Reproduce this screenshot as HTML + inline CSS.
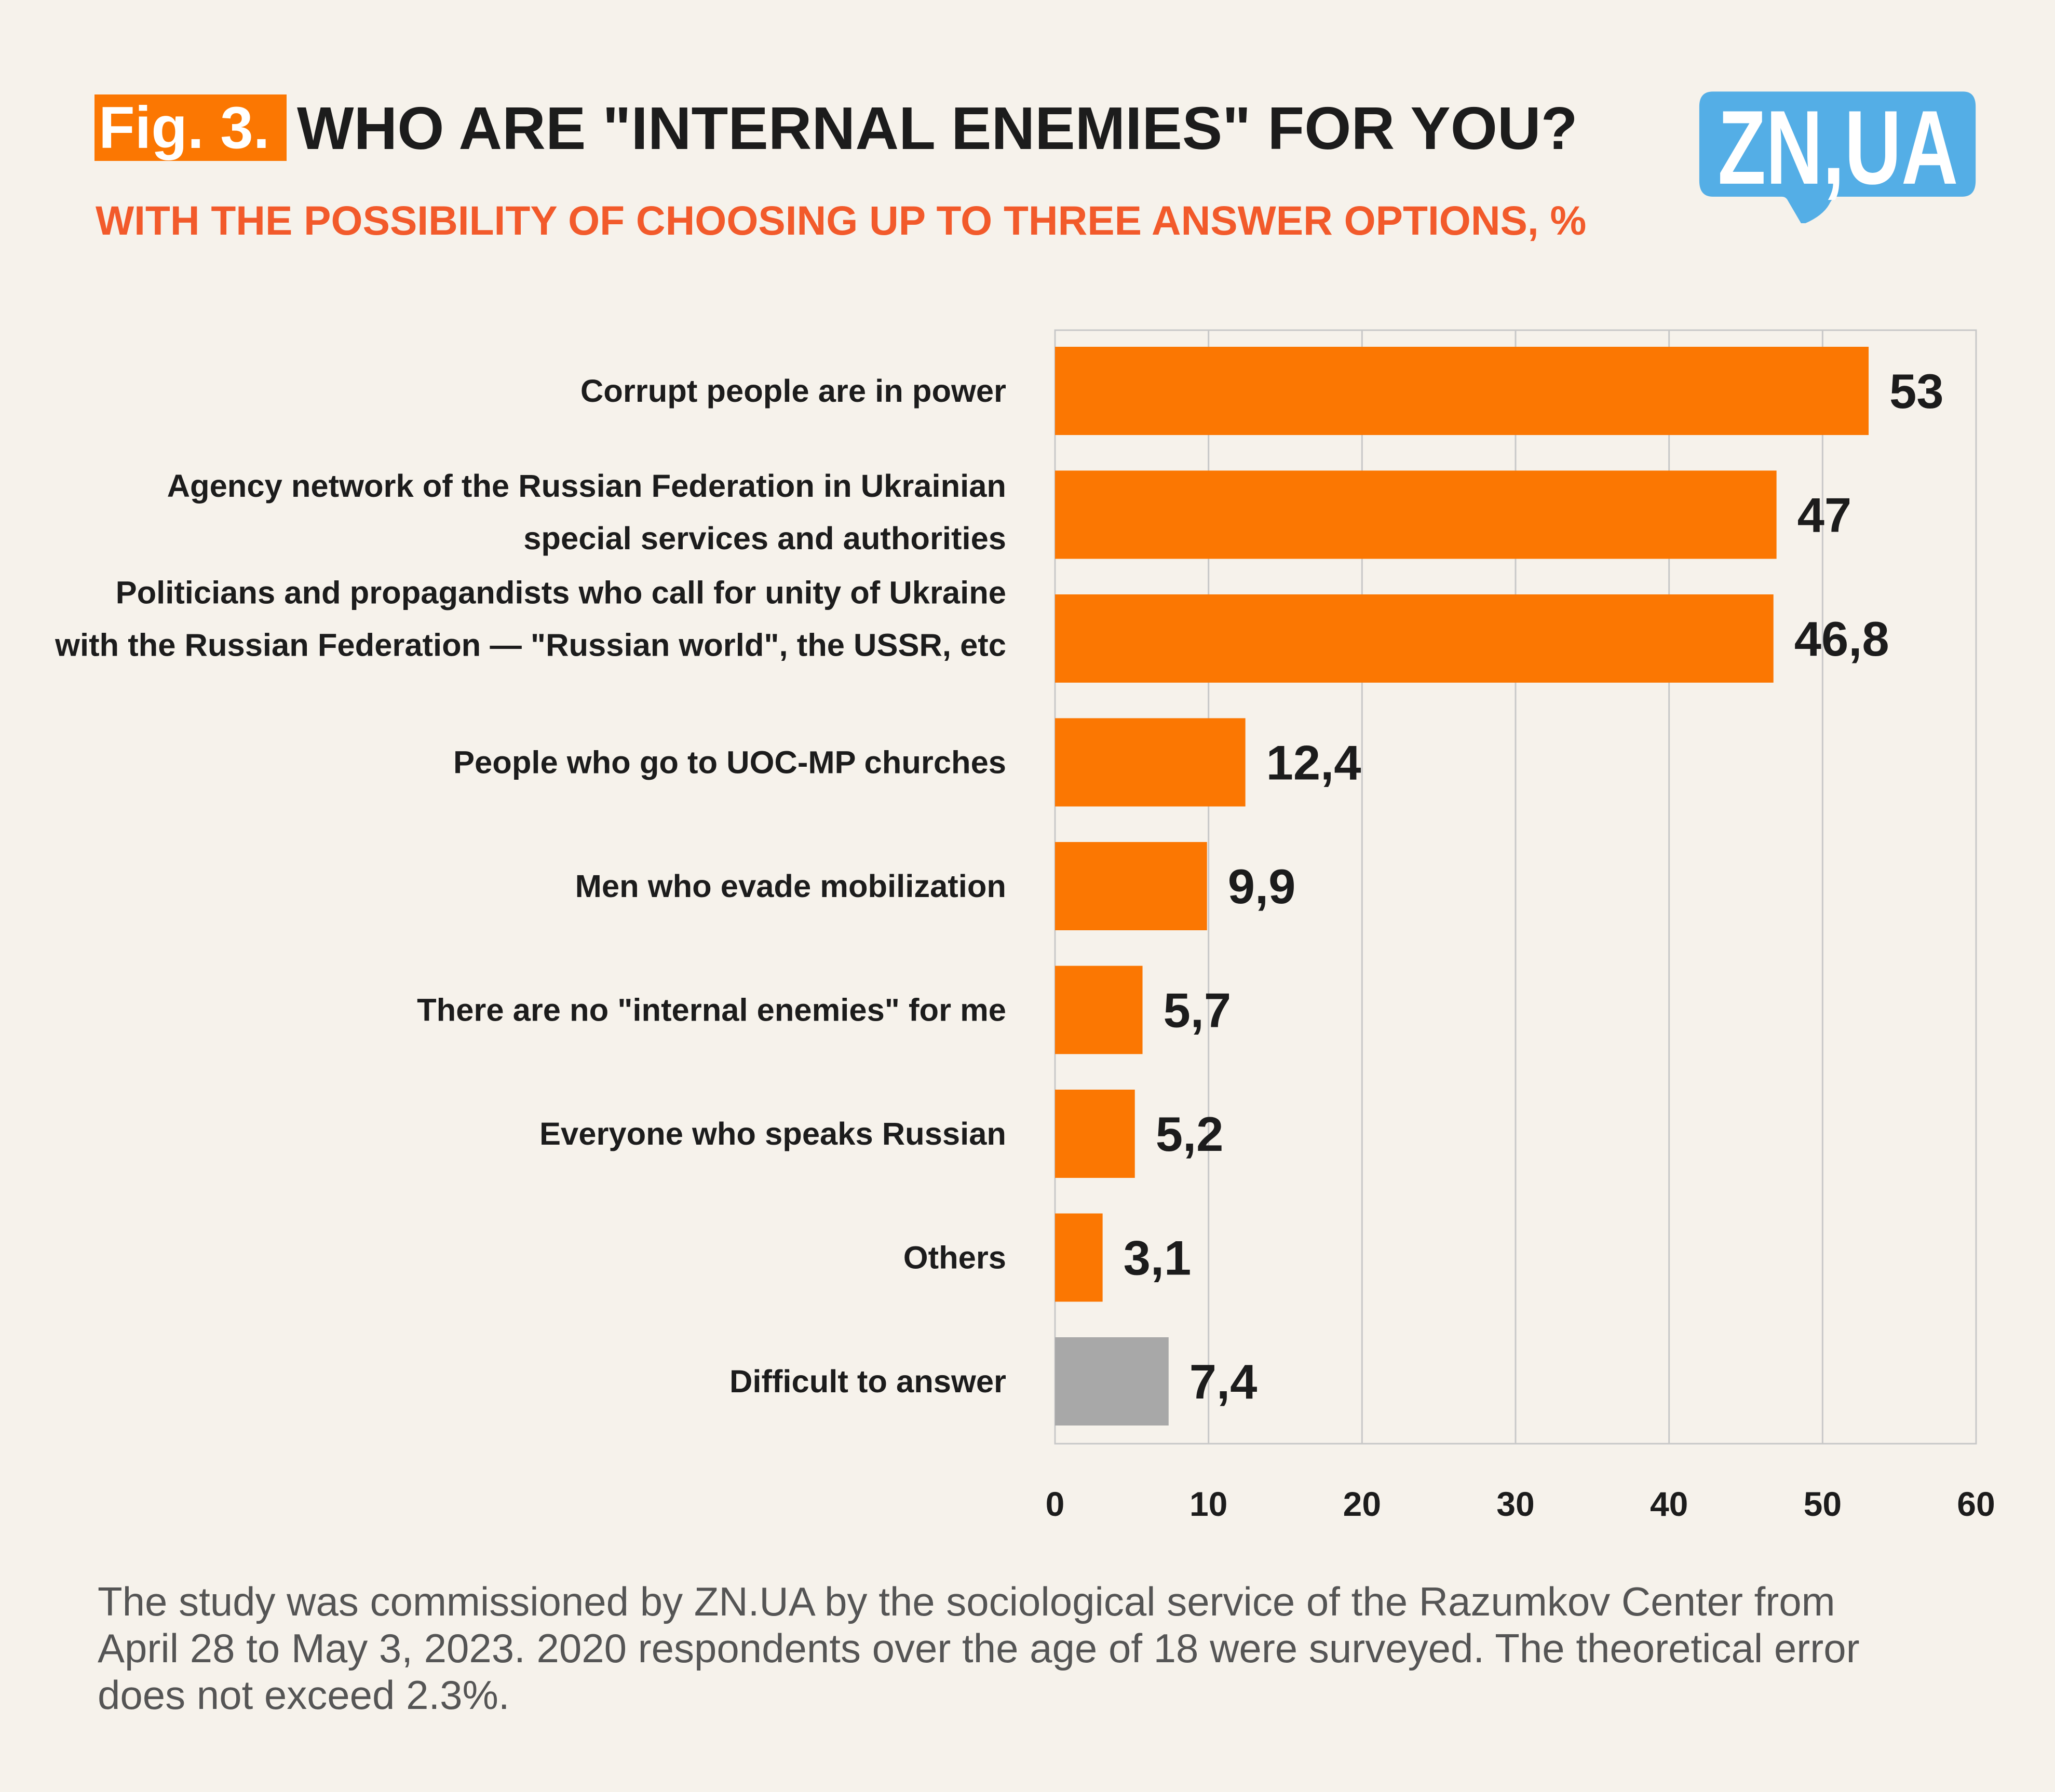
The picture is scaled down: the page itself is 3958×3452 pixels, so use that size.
<!DOCTYPE html>
<html><head><meta charset="utf-8"><style>
body{margin:0;width:3958px;height:3452px;background:#f6f2eb;font-family:"Liberation Sans",sans-serif;overflow:hidden;position:relative}
.abs{position:absolute;white-space:nowrap}
</style></head><body>
<div class="abs" style="left:182px;top:182px;height:128px;width:370px;background:#fb7702"></div>
<div class="abs" style="left:190px;top:182px;font-size:114px;font-weight:bold;color:#fff;line-height:130px">Fig. 3.</div>
<div class="abs" style="left:572px;top:182px;font-size:116px;font-weight:bold;color:#1c1c1c;line-height:130px">WHO ARE "INTERNAL ENEMIES" FOR YOU?</div>
<div class="abs" style="left:184px;top:380px;font-size:78.5px;font-weight:bold;color:#f25a2b;line-height:90px">WITH THE POSSIBILITY OF CHOOSING UP TO THREE ANSWER OPTIONS, %</div>
<svg class="abs" style="left:3270px;top:160px" width="540" height="270" viewBox="0 0 560 270">
<path d="M30,12 H530 Q555,12 555,42 V190 Q555,222 528,222 H278 Q270,222 262,238 Q248,262 208,278 L180,230 Q176,222 168,222 H30 Q3,222 3,190 V42 Q3,12 30,12 Z" fill="#54aee6"/>
<text x="280" y="196" text-anchor="middle" font-family="Liberation Sans Narrow, Liberation Sans, sans-serif" font-weight="bold" font-size="210" fill="#fff" textLength="480" lengthAdjust="spacingAndGlyphs">ZN,UA</text>
</svg>
<svg class="abs" style="left:0;top:0" width="3958" height="3452" id="chart"></svg>
<div class="abs" style="left:188px;top:3040px;font-size:78px;color:#555;line-height:90px;white-space:normal;width:3720px">The study was commissioned by ZN.UA by the sociological service of the Razumkov Center from<br>April 28 to May 3, 2023. 2020 respondents over the age of 18 were surveyed. The theoretical error<br>does not exceed 2.3%.</div>
<script>
const categories=[["Corrupt people are in power"],["Agency network of the Russian Federation in Ukrainian","special services and authorities"],["Politicians and propagandists who call for unity of Ukraine","with the Russian Federation — \"Russian world\", the USSR, etc"],["People who go to UOC-MP churches"],["Men who evade mobilization"],["There are no \"internal enemies\" for me"],["Everyone who speaks Russian"],["Others"],["Difficult to answer"]];
const values=[53,47,46.8,12.4,9.9,5.7,5.2,3.1,7.4];
const valueLabels=["53","47","46,8","12,4","9,9","5,7","5,2","3,1","7,4"];
const ticks=[0,10,20,30,40,50,60];
const NS="http://www.w3.org/2000/svg";
const svg=document.getElementById('chart');
const X0=2032,X1=3806,Y0=636,Y1=2781,step=238.5,bh=170,firstTop=668;
const x=v=>X0+(v/60)*(X1-X0);
const y=i=>firstTop+i*step;
function mk(t,a){const e=document.createElementNS(NS,t);for(const k in a)e.setAttribute(k,a[k]);svg.appendChild(e);return e;}
const frame=mk('rect',{x:X0,y:Y0,width:X1-X0,height:Y1-Y0,fill:'none',stroke:'#c8c8c8','stroke-width':3});


ticks.forEach(t=>{
 const l=mk('line',{x1:x(t),x2:x(t),y1:Y0,y2:Y1,stroke:'#c8c8c8','stroke-width':3});
 
 
 const tx=mk('text',{x:x(t),y:2920,'text-anchor':'middle','font-size':66,'font-weight':'bold',fill:'#1c1c1c'});
 tx.textContent=t;
 
 
});
values.forEach((v,i)=>{
 const r=mk('rect',{x:X0,y:y(i),width:x(v)-X0,height:bh,fill:i===8?'#a8a8a8':'#fb7702'});
 
 
 const vl=mk('text',{x:x(v)+40,y:y(i)+bh/2+33,'font-size':94,'font-weight':'bold',fill:'#1c1c1c'});
 vl.textContent=valueLabels[i];
 
 
 const lines=categories[i];
 const shift=i===2?-38:(i===1?-5:0);
 lines.forEach((s,j)=>{
  const cy=y(i)+bh/2+21+shift+(j-(lines.length-1)/2)*101;
  const c=mk('text',{x:1938,y:cy,'text-anchor':'end','font-size':61.5,'font-weight':'bold',fill:'#1c1c1c'});
  c.textContent=s;
  
  
 });
});
</script>
</body></html>
